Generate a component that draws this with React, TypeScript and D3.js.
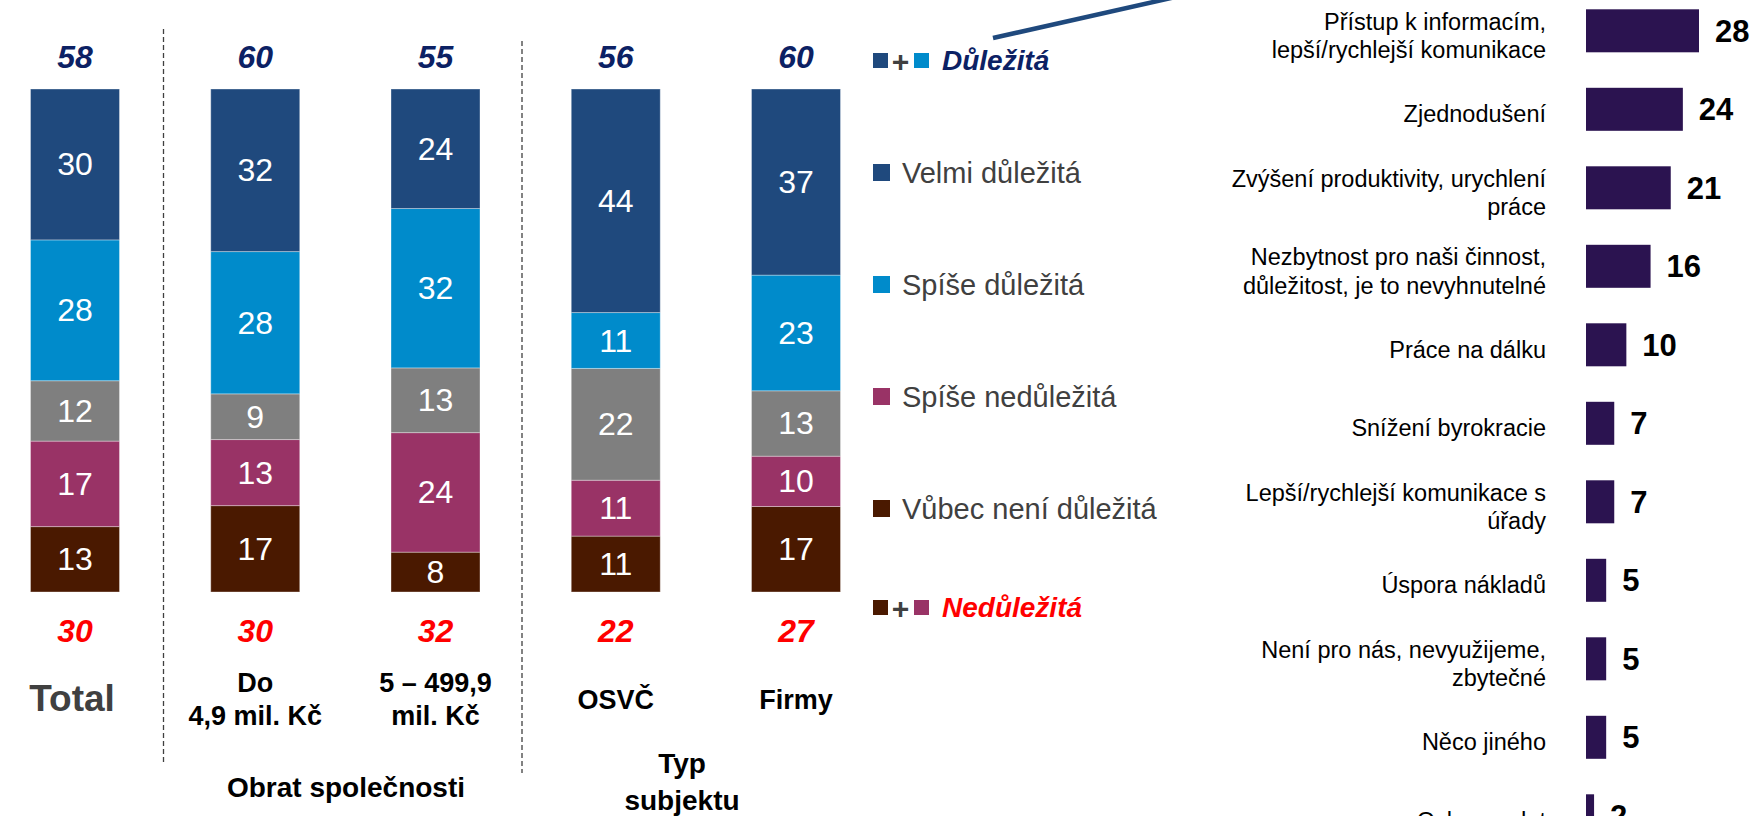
import React from "react";
import * as d3 from "d3";

const groups = ["Total", "Do 4,9", "5 – 499,9", "OSVČ", "Firmy"];
const groupLabelLines = [["Total"], ["Do", "4,9 mil. Kč"], ["5 – 499,9", "mil. Kč"], ["OSVČ"], ["Firmy"]];
const velmi = [30, 32, 24, 44, 37];
const spiseDul = [28, 28, 32, 11, 23];
const neutral = [12, 9, 13, 22, 13];
const spiseNed = [17, 13, 24, 11, 10];
const vubec = [13, 17, 8, 11, 17];
const dulezitaTotals = [58, 60, 55, 56, 60];
const nedulezitaTotals = [30, 30, 32, 22, 27];

const legendItems = ["Velmi důležitá", "Spíše důležitá", "Spíše nedůležitá", "Vůbec není důležitá"];

const reasons = [
  ["Přístup k informacím,", "lepší/rychlejší komunikace"],
  ["Zjednodušení"],
  ["Zvýšení produktivity, urychlení", "práce"],
  ["Nezbytnost pro naši činnost,", "důležitost, je to nevyhnutelné"],
  ["Práce na dálku"],
  ["Snížení byrokracie"],
  ["Lepší/rychlejší komunikace s", "úřady"],
  ["Úspora nákladů"],
  ["Není pro nás, nevyužijeme,", "zbytečné"],
  ["Něco jiného"],
  ["Ochrana dat"],
];
const reasonValues = [28, 24, 21, 16, 10, 7, 7, 5, 5, 5, 2];

const FONT = "'Liberation Sans', Arial, sans-serif";
const C = {
  navy: "#1F497D",
  light: "#008BCB",
  gray: "#7F7F7F",
  magenta: "#993366",
  brown: "#4A1900",
  purple: "#2B1350",
  topText: "#0C2164",
  red: "#FF0000",
  legendText: "#404040",
};

export default function App() {
  const keys = ["vubec", "spiseNed", "neutral", "spiseDul", "velmi"];
  const colors: Record<string, string> = {
    vubec: C.brown,
    spiseNed: C.magenta,
    neutral: C.gray,
    spiseDul: C.light,
    velmi: C.navy,
  };
  const rows = groups.map((g, i) => ({
    g,
    vubec: vubec[i],
    spiseNed: spiseNed[i],
    neutral: neutral[i],
    spiseDul: spiseDul[i],
    velmi: velmi[i],
  }));
  const stacked = d3.stack<any>().keys(keys).offset(d3.stackOffsetExpand)(rows);

  const x = d3.scalePoint<string>().domain(groups).range([75, 796]);
  const barW = 89;
  const y = d3.scaleLinear().domain([0, 1]).range([592, 89]);

  const ry = d3.scalePoint<string>().domain(reasons.map((r) => r.join(" "))).range([30.8, 815.8]);
  const rx = d3.scaleLinear().domain([0, 28]).range([1586, 1699]);
  const rBarH = 43;

  const legendY = [183, 295, 407, 519];
  const legendColors = [C.navy, C.light, C.magenta, C.brown];

  return (
    <svg
      width={1754}
      height={816}
      style={{ position: "absolute", left: 0, top: 0, background: "#fff" }}
      fontFamily={FONT}
    >
      {/* dashed separators */}
      <line x1={163.5} x2={163.5} y1={29} y2={762} stroke="#404040" strokeWidth={1.3} strokeDasharray="5,3" />
      <line x1={522} x2={522} y1={41} y2={773} stroke="#404040" strokeWidth={1.3} strokeDasharray="5,3" />

      {/* stacked bars */}
      {stacked.map((s) => (
        <g key={s.key}>
          {s.map((d, i) => {
            const cx = x(groups[i])!;
            const y0 = y(d[1]);
            const y1 = y(d[0]);
            const val = (rows[i] as any)[s.key];
            return (
              <g key={i}>
                <rect
                  x={cx - barW / 2}
                  y={y0}
                  width={barW}
                  height={y1 - y0}
                  fill={colors[s.key]}
                  stroke="rgba(255,255,255,0.35)"
                  strokeWidth={1}
                />
                <text
                  x={cx}
                  y={(y0 + y1) / 2 + 11}
                  textAnchor="middle"
                  fontSize={32}
                  fill="#fff"
                >
                  {val}
                </text>
              </g>
            );
          })}
        </g>
      ))}

      {/* totals */}
      {groups.map((g, i) => (
        <g key={g}>
          <text x={x(g)!} y={68} textAnchor="middle" fontSize={32} fontWeight="bold" fontStyle="italic" fill={C.topText}>
            {dulezitaTotals[i]}
          </text>
          <text x={x(g)!} y={642} textAnchor="middle" fontSize={32} fontWeight="bold" fontStyle="italic" fill={C.red}>
            {nedulezitaTotals[i]}
          </text>
        </g>
      ))}

      {/* group labels */}
      {groupLabelLines.map((lines, i) => {
        const cx = x(groups[i])!;
        if (i === 0) {
          return (
            <text key={i} x={cx - 3} y={711} textAnchor="middle" fontSize={37} fontWeight="bold" fill="#404040">
              {lines[0]}
            </text>
          );
        }
        if (lines.length === 1) {
          return (
            <text key={i} x={cx} y={709} textAnchor="middle" fontSize={27} fontWeight="bold" fill="#000">
              {lines[0]}
            </text>
          );
        }
        return (
          <text key={i} textAnchor="middle" fontSize={27} fontWeight="bold" fill="#000">
            {lines.map((l, j) => (
              <tspan key={j} x={cx} y={692 + j * 33}>
                {l}
              </tspan>
            ))}
          </text>
        );
      })}
      <text x={346} y={797} textAnchor="middle" fontSize={28} fontWeight="bold" fill="#000">
        Obrat společnosti
      </text>
      <text textAnchor="middle" fontSize={28} fontWeight="bold" fill="#000">
        <tspan x={682} y={773}>Typ</tspan>
        <tspan x={682} y={810}>subjektu</tspan>
      </text>

      {/* legend */}
      <g>
        <rect x={873} y={53} width={15} height={15} fill={C.navy} />
        <text x={900.5} y={72} textAnchor="middle" fontSize={30} fontWeight="bold" fill="#404040">+</text>
        <rect x={914} y={53} width={15} height={15} fill={C.light} />
        <text x={942} y={70} fontSize={28} fontWeight="bold" fontStyle="italic" fill={C.topText}>Důležitá</text>
      </g>
      {legendItems.map((l, i) => (
        <g key={l}>
          <rect x={873} y={legendY[i] - 19} width={17} height={17} fill={legendColors[i]} />
          <text x={902} y={legendY[i]} fontSize={29} fill={C.legendText}>{l}</text>
        </g>
      ))}
      <g>
        <rect x={873} y={600} width={15} height={15} fill={C.brown} />
        <text x={900.5} y={619} textAnchor="middle" fontSize={30} fontWeight="bold" fill="#404040">+</text>
        <rect x={914} y={600} width={15} height={15} fill={C.magenta} />
        <text x={942} y={617} fontSize={28} fontWeight="bold" fontStyle="italic" fill={C.red}>Nedůležitá</text>
      </g>

      {/* connector line */}
      <line x1={993} y1={38} x2={1180} y2={-4} stroke={C.navy} strokeWidth={4.5} />

      {/* right bar chart */}
      {reasons.map((r, i) => {
        const key = r.join(" ");
        const cy = ry(key)!;
        const v = reasonValues[i];
        const n = r.length;
        const lh = 28.4;
        const firstBaseline = cy - ((n - 1) * lh) / 2 + 8 + 5;
        return (
          <g key={key}>
            <rect x={rx(0)} y={cy - rBarH / 2} width={rx(v) - rx(0)} height={rBarH} fill={C.purple} />
            <text x={rx(v) + 16} y={cy + 11} fontSize={31} fontWeight="bold" fill="#000">
              {v}
            </text>
            <text textAnchor="end" fontSize={23.5} fill="#000">
              {r.map((l, j) => (
                <tspan key={j} x={1546} y={firstBaseline + j * lh}>
                  {l}
                </tspan>
              ))}
            </text>
          </g>
        );
      })}
    </svg>
  );
}
